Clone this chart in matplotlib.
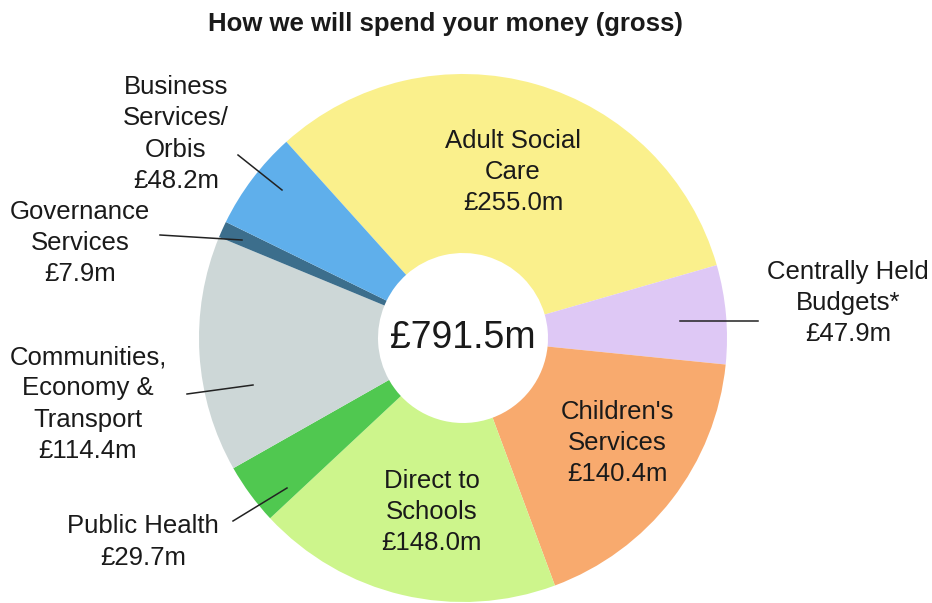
import matplotlib
matplotlib.use("Agg")
import matplotlib.pyplot as plt

plt.rcParams["font.family"] = ["Liberation Sans", "DejaVu Sans"]

# ── data ────────────────────────────────────────────────────
services = ["Adult Social\nCare", "Centrally Held\nBudgets*", "Children's\nServices",
            "Direct to\nSchools", "Public Health", "Communities,\nEconomy &\nTransport",
            "Governance\nServices", "Business\nServices/\nOrbis"]
spend_m = [255.0, 47.9, 140.4, 148.0, 29.7, 114.4, 7.9, 48.2]
total_label = "£791.5m"
colors = ["#FAF08C", "#DEC8F5", "#F8AA6E", "#CDF58C",
          "#50C850", "#CDD7D7", "#3C6E8C", "#5FAFEB"]

# label placement in pixel space (image y measured from top)
label_pos = [(513, 172), (848, 303), (617, 443), (432, 512),
             (143, 542), (88, 404), (80, 243), (176, 134)]
leaders = {1: ((680, 321), (758, 321)),
           4: ((287, 488), (233, 521)),
           5: ((253, 385), (187, 394)),
           6: ((242, 240), (160, 235)),
           7: ((282, 190), (238, 155))}

W, H = 932, 603
fig = plt.figure(figsize=(W / 100, H / 100), dpi=100)
ax = fig.add_axes([0, 0, 1, 1])

cx, cy, r_out, r_in = 463, H - 338, 264, 85
ax.pie(spend_m, colors=colors, startangle=132, counterclock=False,
       center=(cx, cy), radius=r_out, frame=True,
       wedgeprops=dict(width=r_out - r_in, linewidth=0))
ax.set_xlim(0, W)
ax.set_ylim(0, H)
ax.set_aspect("equal")
ax.axis("off")

for i, (name, val) in enumerate(zip(services, spend_m)):
    x, y = label_pos[i]
    ax.text(x, H - y, f"{name}\n£{val:.1f}m", ha="center", va="center",
            fontsize=18.5, color="#1a1a1a", linespacing=1.38)

for i, (p0, p1) in leaders.items():
    ax.plot([p0[0], p1[0]], [H - p0[1], H - p1[1]], color="#222222", lw=1.1)

ax.text(cx, cy, total_label, ha="center", va="center", fontsize=27, color="#1a1a1a")
ax.text(445, H - 24, "How we will spend your money (gross)", ha="center", va="center",
        fontsize=18.5, fontweight="bold", color="#1a1a1a")

fig.savefig("out.png", dpi=100)
